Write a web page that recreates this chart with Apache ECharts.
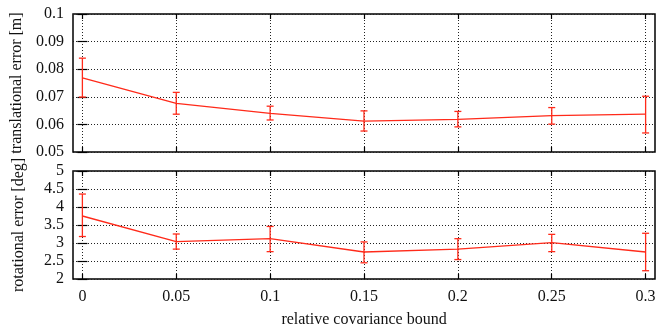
<!DOCTYPE html>
<html>
<head>
<meta charset="utf-8">
<script src="https://cdn.jsdelivr.net/npm/echarts@6/dist/echarts.min.js"></script>
<style>
  html, body { margin: 0; padding: 0; background: #fff; }
  #chart { width: 667px; height: 329px; }
</style>
</head>
<body>
<div id="chart"></div>
<script>
// relative covariance bound
const bounds = [0, 0.05, 0.1, 0.15, 0.2, 0.25, 0.3]
const xTicks = [0, 0.05, 0.1, 0.15, 0.2, 0.25, 0.3]
const xTickLabels = ['0', '0.05', '0.1', '0.15', '0.2', '0.25', '0.3']

// translational error [m]
const transMean = [0.0769, 0.0676, 0.0640, 0.0612, 0.0618, 0.0632, 0.0637]
const transLow = [0.0699, 0.0637, 0.0616, 0.0576, 0.0591, 0.0601, 0.0569]
const transHigh = [0.0840, 0.0716, 0.0666, 0.0649, 0.0647, 0.0661, 0.0702]

// rotational error [deg]
const rotMean = [3.75, 3.04, 3.12, 2.75, 2.83, 3.01, 2.75]
const rotLow = [3.18, 2.83, 2.76, 2.45, 2.54, 2.76, 2.23]
const rotHigh = [4.36, 3.25, 3.46, 3.03, 3.12, 3.24, 3.27]

const RED = '#ff2a1a'
const FONT = 'Liberation Serif'

const chart = echarts.init(document.getElementById('chart'), null, { renderer: 'canvas' })

function errorBars(low, high, xi, yi) {
  return {
    type: 'custom',
    xAxisIndex: xi,
    yAxisIndex: yi,
    z: 5,
    data: bounds.map((b, i) => [b, low[i], high[i]]),
    renderItem: (params, api) => {
      const lo = api.coord([api.value(0), api.value(1)])
      const hi = api.coord([api.value(0), api.value(2)])
      const w = 3.5
      const style = { stroke: RED, lineWidth: 1.3 }
      return {
        type: 'group',
        children: [
          { type: 'line', shape: { x1: lo[0], y1: lo[1], x2: hi[0], y2: hi[1] }, style },
          { type: 'line', shape: { x1: lo[0] - w, y1: lo[1], x2: lo[0] + w, y2: lo[1] }, style },
          { type: 'line', shape: { x1: hi[0] - w, y1: hi[1], x2: hi[0] + w, y2: hi[1] }, style },
        ],
      }
    },
  }
}

const labelStyle = { color: '#111', fontFamily: FONT, fontSize: 16 }
const gridLine = { show: true, lineStyle: { color: '#222', type: [1, 2], width: 1 } }

function xAxis(gridIndex, showLabels) {
  return {
    type: 'value',
    gridIndex,
    min: -0.005,
    max: 0.305,
    position: 'bottom',
    axisLine: { show: false },
    axisTick: { show: true, inside: true, length: 5, customValues: xTicks, lineStyle: { color: '#000', width: 1.2 } },
    axisLabel: {
      show: showLabels,
      customValues: xTicks,
      margin: 10,
      ...labelStyle,
      formatter: (v) => xTickLabels[xTicks.indexOf(v)] ?? '',
    },
    splitLine: gridLine,
    name: showLabels ? 'relative covariance bound' : '',
    nameLocation: 'middle',
    nameGap: 33,
    nameTextStyle: labelStyle,
  }
}

function mirrorX(gridIndex) {
  return {
    type: 'value',
    gridIndex,
    min: -0.005,
    max: 0.305,
    position: 'top',
    axisLine: { show: false },
    axisTick: { show: true, inside: true, length: 5, customValues: xTicks, lineStyle: { color: '#000', width: 1.2 } },
    axisLabel: { show: false },
    splitLine: { show: false },
  }
}

function yAxis(gridIndex, min, max, interval, name) {
  return {
    type: 'value',
    gridIndex,
    min,
    max,
    interval,
    position: 'left',
    axisLine: { show: false },
    axisTick: { show: true, inside: true, length: 5, lineStyle: { color: '#000', width: 1.2 } },
    axisLabel: { margin: 9, ...labelStyle },
    splitLine: gridLine,
    name,
    nameLocation: 'middle',
    nameRotate: 90,
    nameGap: 46,
    nameTextStyle: labelStyle,
  }
}

function mirrorY(gridIndex, min, max, interval) {
  return {
    type: 'value',
    gridIndex,
    min,
    max,
    interval,
    position: 'right',
    axisLine: { show: false },
    axisTick: { show: true, inside: true, length: 5, lineStyle: { color: '#000', width: 1.2 } },
    axisLabel: { show: false },
    splitLine: { show: false },
  }
}

chart.setOption({
  animation: false,
  backgroundColor: '#fff',
  grid: [
    { left: 73, right: 12, top: 14, height: 138, show: true, borderColor: '#000', borderWidth: 1.5, backgroundColor: 'transparent' },
    { left: 73, right: 12, top: 171, height: 114, show: true, borderColor: '#000', borderWidth: 1.5, backgroundColor: 'transparent' },
  ],
  xAxis: [xAxis(0, false), xAxis(1, true), mirrorX(0), mirrorX(1)],
  yAxis: [
    yAxis(0, 0.05, 0.1, 0.01, 'translational error [m]'),
    yAxis(1, 2, 5, 0.5, 'rotational error [deg]'),
    mirrorY(0, 0.05, 0.1, 0.01),
    mirrorY(1, 2, 5, 0.5),
  ],
  series: [
    {
      type: 'line',
      xAxisIndex: 0,
      yAxisIndex: 0,
      data: bounds.map((b, i) => [b, transMean[i]]),
      symbol: 'none',
      lineStyle: { color: RED, width: 1.3 },
      z: 4,
    },
    errorBars(transLow, transHigh, 0, 0),
    {
      type: 'line',
      xAxisIndex: 1,
      yAxisIndex: 1,
      data: bounds.map((b, i) => [b, rotMean[i]]),
      symbol: 'none',
      lineStyle: { color: RED, width: 1.3 },
      z: 4,
    },
    errorBars(rotLow, rotHigh, 1, 1),
  ],
})
</script>
</body>
</html>
